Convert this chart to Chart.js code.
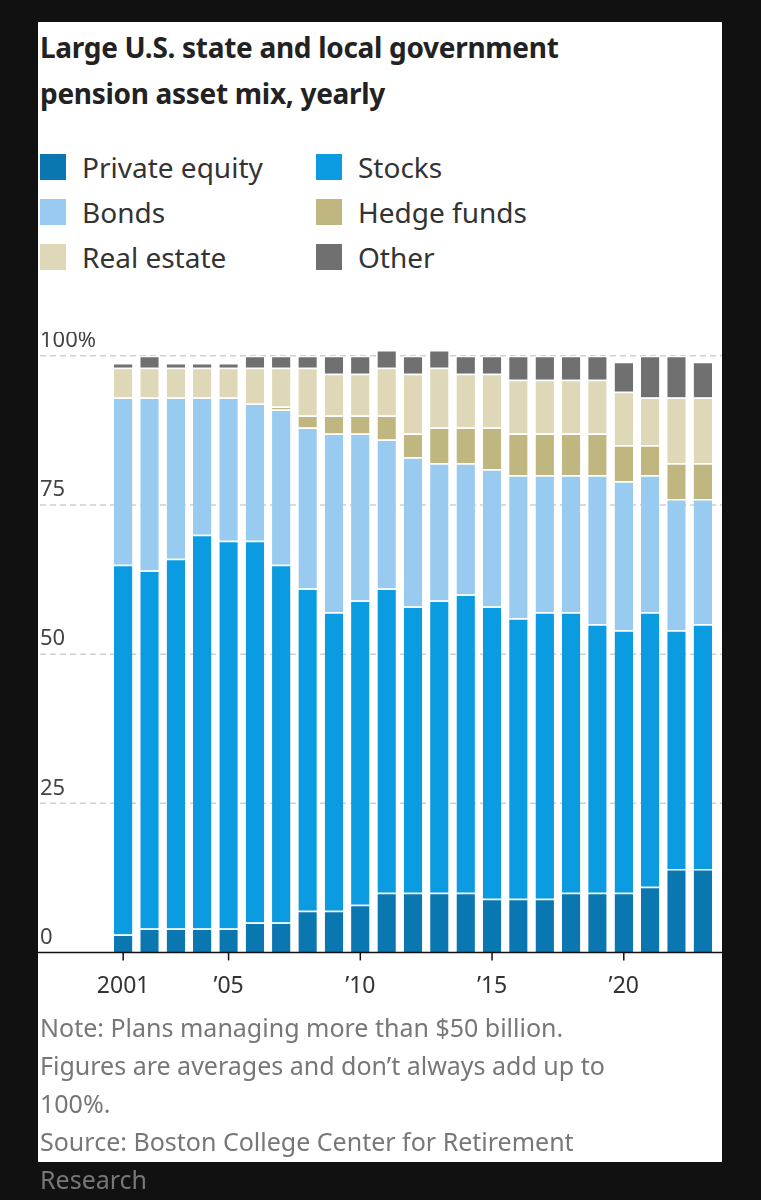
<!DOCTYPE html>
<html><head><meta charset="utf-8">
<script src="https://cdn.jsdelivr.net/npm/chart.js@4"></script>
<style>
body{margin:0;background:#111;width:761px;height:1200px;position:relative;font-family:"Noto Sans",sans-serif;}
#panel{position:absolute;left:38px;top:22px;width:684px;height:1140px;background:#fff;}
#title{position:absolute;left:2px;top:2px;font-size:28px;font-weight:bold;line-height:46px;color:#222;letter-spacing:-0.3px;}
.leg{position:absolute;font-size:28px;color:#333;display:flex;align-items:center;white-space:nowrap;}
.sw{width:26px;height:26px;margin-right:16px;display:inline-block;}
#note{position:absolute;left:2px;top:986px;font-size:25px;line-height:38px;color:#777;width:600px;}
#wrap{position:absolute;left:0;top:310px;width:684px;height:680px;}
</style></head><body>
<div id="panel">
<div id="title">Large U.S. state and local government<br>pension asset mix, yearly</div>
<div id="legend"></div>
<div id="wrap"><canvas id="c"></canvas></div>
<div id="note">Note: Plans managing more than $50 billion. Figures are averages and don’t always add up to 100%.<br>Source: Boston College Center for Retirement Research</div>
</div>
<script>
const years=['2001','2002','2003','2004','2005','2006','2007','2008','2009','2010','2011','2012','2013','2014','2015','2016','2017','2018','2019','2020','2021','2022','2023'];
const xTickLabels={'2001':'2001','2005':'’05','2010':'’10','2015':'’15','2020':'’20'};
const yTickLabels={0:'0',25:'25',50:'50',75:'75',100:'100%'};
const privateEquity=[3,4,4,4,4,5,5,7,7,8,10,10,10,10,9,9,9,10,10,10,11,14,14];
const stocks=[62,60,62,66,65,64,60,54,50,51,51,48,49,50,49,47,48,47,45,44,46,40,41];
const bonds=[28,29,27,23,24,23,26,27,30,28,25,25,23,22,23,24,23,23,25,25,23,22,21];
const hedgeFunds=[0,0,0,0,0,0,0.5,2,3,3,4,4,6,6,7,7,7,7,7,6,5,6,6];
const realEstate=[5,5,5,5,5,6,6.5,8,7,7,8,10,10,9,9,9,9,9,9,9,8,11,11];
const other=[0.8,2,0.8,0.8,0.8,2,2,2,3,3,3,3,3,3,3,4,4,4,4,5,7,7,6];
const series=[
 ['Private equity',privateEquity,'#0a77b0'],
 ['Stocks',stocks,'#0b9be0'],
 ['Bonds',bonds,'#98cbef'],
 ['Hedge funds',hedgeFunds,'#bfb77f'],
 ['Real estate',realEstate,'#ded8b8'],
 ['Other',other,'#707070']];
const legendPos=[[2,126],[278,126],[2,171],[278,171],[2,216],[278,216]];
const lg=document.getElementById('legend');
series.forEach((s,i)=>{const d=document.createElement('div');d.className='leg';d.style.left=legendPos[i][0]+'px';d.style.top=legendPos[i][1]+'px';d.innerHTML='<span class="sw" style="background:'+s[2]+'"></span>'+s[0];lg.appendChild(d);});
const gridPlugin={id:'g',beforeDatasetsDraw(ch){const c=ch.ctx,y=ch.scales.y;c.save();
 Object.keys(yTickLabels).forEach(v=>{const py=y.getPixelForValue(+v);
  if(+v>0){c.strokeStyle='#d0d0d0';c.lineWidth=1.5;c.setLineDash([6,4]);c.beginPath();c.moveTo(2,py);c.lineTo(684,py);c.stroke();}
  c.setLineDash([]);c.fillStyle='#444';c.font='22px "Noto Sans"';c.textBaseline='bottom';c.fillText(yTickLabels[v],2,py-4);});
 c.restore();},
 afterDatasetsDraw(ch){const c=ch.ctx,y=ch.scales.y,x=ch.scales.x;const py=y.getPixelForValue(0);c.save();c.strokeStyle='#111';c.lineWidth=1.5;c.beginPath();c.moveTo(0,py);c.lineTo(684,py);c.stroke();
 years.forEach((yr,i)=>{if(xTickLabels[yr]){const px=x.getPixelForValue(i);c.beginPath();c.moveTo(px,py);c.lineTo(px,py+8);c.stroke();}});c.restore();}};
new Chart(document.getElementById('c'),{type:'bar',
 data:{labels:years,datasets:series.map(s=>({label:s[0],data:s[1],backgroundColor:s[2],borderColor:'#fff',borderWidth:{top:1.5,bottom:0,left:0,right:0},borderSkipped:false,categoryPercentage:1,barPercentage:0.7}))},
 options:{responsive:true,maintainAspectRatio:false,animation:false,devicePixelRatio:1,
  layout:{padding:{left:72,right:6,top:0,bottom:0}},
  plugins:{legend:{display:false},tooltip:{enabled:false}},
  scales:{x:{stacked:true,grid:{display:false},border:{display:false},
    ticks:{autoSkip:false,maxRotation:0,color:'#333',font:{size:23,family:'Noto Sans'},padding:12,callback:(v,i)=>xTickLabels[years[i]]||''}},
   y:{stacked:true,min:0,max:104,display:false}}},
 plugins:[gridPlugin]});
</script></body></html>
